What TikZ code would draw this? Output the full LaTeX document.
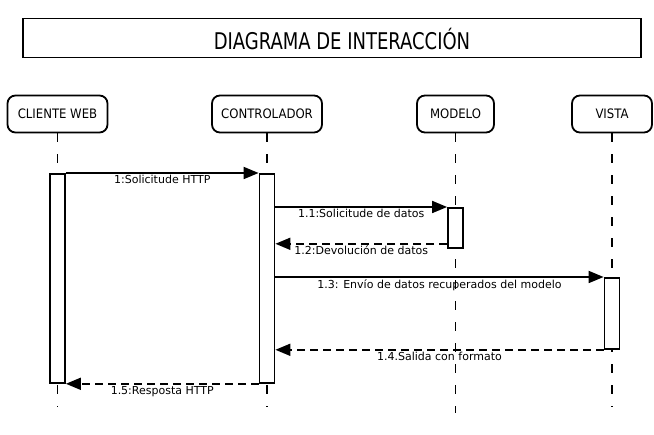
\documentclass[tikz,border=0pt]{standalone}
\usepackage{fontspec}
\setmainfont{DejaVu Sans}
\newfontfamily\condfont{DejaVu Sans Condensed}
\newfontfamily\titlefont[FakeStretch=0.87]{DejaVu Sans Condensed}
\usetikzlibrary{arrows.meta, positioning, calc}

\tikzset{
    actor/.style={draw, line width=1.8pt, rounded corners=8pt, minimum height=37,
        font=\condfont\fontsize{13}{15}\selectfont},
    lifeline/.style={line width=1.1pt, dash pattern=on 9pt off 12pt},
    bar/.style={draw, line width=1.8pt, fill=white, minimum width=15, inner sep=0pt, anchor=north},
    call/.style={line width=1.8pt, -{Triangle[length=15pt, width=12pt]}},
    reply/.style={call, dash pattern=on 8pt off 5pt},
    lbl/.style={below, inner sep=1.5pt, font=\fontsize{11}{13}\selectfont}
}

\begin{document}
\begin{tikzpicture}[x=1pt, y=-1pt]
	\useasboundingbox (0,0) rectangle (654,435);
	
	% title
	\node[draw, line width=1.8pt, minimum width=618, minimum height=39] (title) at (332,38) {};
	\node[font=\titlefont\fontsize{23}{26}\selectfont] (titletxt) at (342,39) {DIAGRAMA DE INTERACCIÓN};
	
	% participants
	\node[actor, minimum width=100] (cli) at (57.5,114) {CLIENTE WEB};
	\node[actor, minimum width=110] (ctl) at (267,114) {CONTROLADOR};
	\node[actor, minimum width=77] (mod) at (455.5,114) {MODELO};
	\node[actor, minimum width=80] (vis) at (612,114) {VISTA};
	
	\draw[lifeline] (cli.south) -- ++(0,274);
	\draw[lifeline] (ctl.south) -- ++(0,274);
	\draw[lifeline] (mod.south) -- ++(0,280);
	\draw[lifeline] (vis.south) -- ++(0,274);
	
	% activations
	\node[bar, minimum height=209] (acli) at (cli.south |- 0,173) {};
	\node[bar, minimum height=209] (actl) at (ctl.south |- 0,173) {};
	\node[bar, minimum height=40] (amod) at (mod.south |- 0,207) {};
	\node[bar, minimum height=71] (avis) at (vis.south |- 0,277) {};
	
	\coordinate (c11) at (actl.east |- amod.north);
	\coordinate (m12) at ($(amod.south west) + (0,-5)$);
	\coordinate (c12) at (actl.east |- m12);
	\coordinate (c13) at (actl.east |- avis.north);
	\coordinate (c14) at (actl.east |- avis.south);
	
	% messages
	\draw[call] (acli.north east) -- node[lbl] {1:Solicitude HTTP} (actl.north west);
	\draw[call] (c11) -- node[lbl] {1.1:Solicitude de datos} (amod.north west);
	\draw[reply] (m12) -- node[lbl] {1.2:Devolución de datos} (c12);
	\draw[call] (c13) -- node[lbl] {1.3: Envío de datos recuperados del modelo} (avis.north west);
	\draw[reply] (avis.south west) -- node[lbl] {1.4.Salida con formato} (c14);
	\draw[reply] (actl.south west) -- node[lbl] {1.5:Resposta HTTP} (acli.south east);
\end{tikzpicture}
\end{document}
